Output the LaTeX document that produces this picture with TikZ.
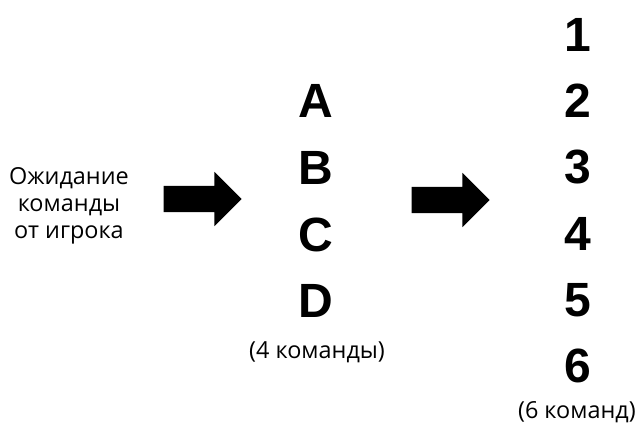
\documentclass[tikz,border=0pt]{standalone}
\usepackage{fontspec}
\setmainfont{Open Sans}
\newfontfamily\itemfont{Liberation Sans}
\usetikzlibrary{shapes.arrows, positioning}

\begin{document}
\begin{tikzpicture}[x=0.03cm, y=-0.03cm,
		lbl/.style={font=\fontsize{20}{23}\selectfont, align=center, inner sep=0pt},
		item/.style={font=\itemfont\bfseries\fontsize{41}{41}\selectfont, inner sep=0pt},
		blockarrow/.style={single arrow, fill=black, inner xsep=0pt, inner ysep=11.1pt,
			minimum height=2.34cm, single arrow head extend=11.95pt, anchor=tip}]
		\useasboundingbox (0,0) rectangle (638,425);
		% waiting for the player
		\node[lbl] (wait) at (69,206) {Ожидание\\команды\\от игрока};
		\node[blockarrow] (arr1) at (242,199) {};
		% four commands
		\node[item] (A) at (316,101) {A};
		\node[item] (B) at (316,168) {B};
		\node[item] (C) at (316,235) {C};
		\node[item] (D) at (316,301) {D};
		\node[lbl] (four) at (317,352) {(4 команды)};
		\node[blockarrow] (arr2) at (490,200) {};
		% six commands
		\foreach \i in {1,...,6}
			\node[item] (n\i) at (578,{35+66.2*(\i-1)}) {\i};
		\node[lbl, anchor=east] (six) at (636,412) {(6 команд)};
	\end{tikzpicture}
\end{document}
